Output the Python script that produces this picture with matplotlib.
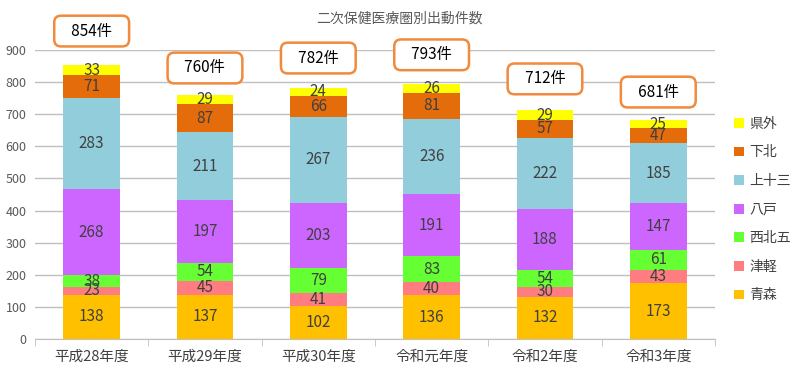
import matplotlib.pyplot as plt
import numpy as np

plt.rcParams["font.family"] = ["Noto Sans CJK JP", "DejaVu Sans"]

years = ["平成28年度", "平成29年度", "平成30年度", "令和元年度", "令和2年度", "令和3年度"]
areas = ["青森", "津軽", "西北五", "八戸", "上十三", "下北", "県外"]
aomori = [138, 137, 102, 136, 132, 173]
tsugaru = [23, 45, 41, 40, 30, 43]
seihokugo = [38, 54, 79, 83, 54, 61]
hachinohe = [268, 197, 203, 191, 188, 147]
kamitosan = [283, 211, 267, 236, 222, 185]
shimokita = [71, 87, 66, 81, 57, 47]
kengai = [33, 29, 24, 26, 29, 25]
totals = [854, 760, 782, 793, 712, 681]
box_y = [959, 844, 875, 885, 810, 769]

series = [aomori, tsugaru, seihokugo, hachinohe, kamitosan, shimokita, kengai]
colors = ["#FFC000", "#FF7C80", "#66FF33", "#CC66FF", "#92CDDC", "#E46C0A", "#FFFF00"]

fig = plt.figure(figsize=(7.99, 3.78), dpi=100)
ax = fig.add_axes([0.0438, 0.1032, 0.851, 0.7645])

x = np.arange(len(years))
bottom = np.zeros(len(years))
handles = []
for name, vals, c in zip(areas, series, colors):
    vals = np.array(vals)
    b = ax.bar(x, vals, 0.5, bottom=bottom, color=c, label=name, zorder=3)
    handles.append(b)
    for xi, v, bt in zip(x, vals, bottom):
        ax.text(xi, bt + v / 2, str(v), ha="center", va="center",
                fontsize=11, color="#404040", zorder=4)
    bottom += vals

# total callouts (rounded orange boxes)
for xi, t, yb in zip(x, totals, box_y):
    ax.text(xi, yb, f"   {t}件   ", ha="center", va="center", fontsize=11,
            color="black", clip_on=False, zorder=5,
            bbox=dict(boxstyle="round,pad=0.45,rounding_size=0.45",
                      fc="white", ec="#F08A3C", lw=1.8))

ax.set_xlim(-0.5, len(years) - 0.5)
ax.set_ylim(0, 900)
ax.set_yticks(range(0, 901, 100))
ax.yaxis.grid(True, color="#BFBFBF", lw=1, zorder=0)
ax.tick_params(axis="y", length=0, labelsize=9, labelcolor="#595959", pad=6)
ax.set_xticks(x)
ax.set_xticklabels(years, fontsize=10.5, color="#404040")
ax.set_xticks(np.arange(-0.5, len(years)), minor=True)
ax.tick_params(axis="x", which="major", length=0, pad=8)
ax.tick_params(axis="x", which="minor", length=5, color="#BFBFBF")
for s in ["top", "right", "left"]:
    ax.spines[s].set_visible(False)
ax.spines["bottom"].set_color("#BFBFBF")

fig.text(0.5, 0.952, "二次保健医療圏別出動件数", ha="center", va="center",
         fontsize=10, color="#595959")

leg = ax.legend(handles[::-1], areas[::-1], loc="center left",
                bbox_to_anchor=(1.01, 0.448), frameon=False, fontsize=10,
                handlelength=0.7, handleheight=0.7, handletextpad=0.4,
                labelspacing=1.05, labelcolor="#404040")

fig.savefig("out.png", dpi=100)
